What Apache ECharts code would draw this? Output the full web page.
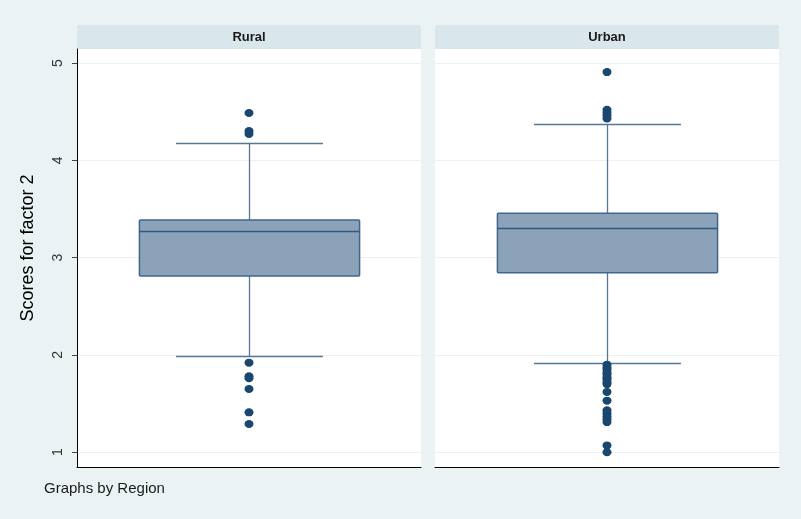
<!DOCTYPE html>
<html><head><meta charset="utf-8">
<script src="https://cdn.jsdelivr.net/npm/echarts@6/dist/echarts.min.js"></script>
<style>html,body{margin:0;padding:0;background:#eaf2f3}#c{width:801px;height:519px}</style>
</head><body><div id="c"></div>
<script>
// ---- data ----
const categories = ['Rural', 'Urban'];
// [lower whisker, Q1, median, Q3, upper whisker]
const ruralBox = [1.989, 2.811, 3.277, 3.386, 4.178];
const urbanBox = [1.917, 2.845, 3.307, 3.455, 4.373];
const ruralOutliers = [4.486, 4.30, 4.27, 1.92, 1.78, 1.76, 1.65, 1.41, 1.29];
const urbanOutliers = [4.907, 4.52, 4.49, 4.46, 4.43,
  1.90, 1.87, 1.85, 1.82, 1.80, 1.77, 1.75, 1.72, 1.70, 1.62, 1.53,
  1.43, 1.40, 1.37, 1.34, 1.31, 1.07, 1.00];
const yTicks = [1, 2, 3, 4, 5];
const yMin = 0.848, yMax = 5.144;
const yTitle = 'Scores for factor 2';
const note = 'Graphs by Region';

const boxes = [ruralBox, urbanBox];
const outliers = [ruralOutliers, urbanOutliers];

const FONT = '"Liberation Sans", Arial, sans-serif';
const boxFill = '#8ca2b8', boxBorder = '#41668d', medColor = '#2f5882', whiskerColor = '#56779a', dotColor = '#1a476f';

function crisp(v) { return Math.round(v) + 0.5; }

function renderBox(params, api) {
  const x = api.value(0);
  const lo = api.value(1), q1 = api.value(2), med = api.value(3), q3 = api.value(4), hi = api.value(5);
  const band = api.size([1, 0])[0];
  const cx = crisp(api.coord([x, med])[0]);
  const y = v => api.coord([x, v])[1];
  const bw = band * 0.64, cw = band * 0.427;
  const ls = { stroke: whiskerColor, lineWidth: 1.3 };
  return {
    type: 'group',
    children: [
      { type: 'line', shape: { x1: cx, y1: y(hi), x2: cx, y2: y(q3) }, style: ls },
      { type: 'line', shape: { x1: cx, y1: y(q1), x2: cx, y2: y(lo) }, style: ls },
      { type: 'line', shape: { x1: cx - cw / 2, y1: crisp(y(hi)), x2: cx + cw / 2, y2: crisp(y(hi)) }, style: ls },
      { type: 'line', shape: { x1: cx - cw / 2, y1: crisp(y(lo)), x2: cx + cw / 2, y2: crisp(y(lo)) }, style: ls },
      { type: 'rect', shape: { x: cx - bw / 2, y: y(q3), width: bw, height: y(q1) - y(q3), r: 1 },
        style: { fill: boxFill, stroke: boxBorder, lineWidth: 1.5 } },
      { type: 'line', shape: { x1: cx - bw / 2, y1: crisp(y(med)), x2: cx + bw / 2, y2: crisp(y(med)) },
        style: { stroke: medColor, lineWidth: 1.5 } }
    ]
  };
}

const grids = [
  { left: 77, right: 380, top: 49, bottom: 52 },
  { left: 435, right: 22, top: 49, bottom: 52 }
];

const xAxes = categories.map((c, i) => ({
  type: 'category', gridIndex: i, data: [c],
  axisLine: { show: true, lineStyle: { color: '#000', width: 1 } },
  axisTick: { show: false }, axisLabel: { show: false }, splitLine: { show: false }
}));

const yAxes = categories.map((c, i) => ({
  type: 'value', gridIndex: i, min: yMin, max: yMax,
  axisLine: { show: i === 0, lineStyle: { color: '#000', width: 1 } },
  axisTick: { show: i === 0, length: 5, lineStyle: { color: '#444' }, customValues: yTicks },
  axisLabel: { show: i === 0, customValues: yTicks, rotate: 90, margin: 12,
    color: '#333', fontSize: 14, fontFamily: FONT },
  splitLine: { show: true, lineStyle: { color: '#eaf2f3', width: 1 } }
}));

const series = [];
categories.forEach((c, i) => {
  series.push({
    type: 'custom', xAxisIndex: i, yAxisIndex: i,
    renderItem: renderBox,
    encode: { x: 0, y: [1, 2, 3, 4, 5] },
    data: [[0].concat(boxes[i])],
    z: 2
  });
  series.push({
    type: 'scatter', xAxisIndex: i, yAxisIndex: i,
    symbol: 'circle', symbolSize: [9, 8],
    itemStyle: { color: dotColor, opacity: 1 },
    data: outliers[i].map(v => [0, v]),
    z: 3
  });
});

const graphic = [];
grids.forEach((g, i) => {
  const x0 = g.left, x1 = 801 - g.right;
  graphic.push({ type: 'rect', left: x0, top: 25, shape: { width: x1 - x0, height: 24, r: [2, 2, 0, 0] },
    style: { fill: '#d9e6eb' }, silent: true });
  graphic.push({ type: 'text', x: (x0 + x1) / 2, y: 37,
    style: { text: categories[i], fill: '#1a1a1a', font: 'bold 13px ' + FONT, textAlign: 'center', textVerticalAlign: 'middle' } });
});
graphic.push({ type: 'text', x: 28, y: 248, rotation: Math.PI / 2,
  style: { text: yTitle, fill: '#000', font: '18px ' + FONT, textAlign: 'center', textVerticalAlign: 'middle' } });
graphic.push({ type: 'text', x: 44, y: 489,
  style: { text: note, fill: '#1a1a1a', font: '15px ' + FONT, textAlign: 'left', textVerticalAlign: 'middle' } });

const chart = echarts.init(document.getElementById('c'), null, { renderer: 'canvas' });
chart.setOption({
  backgroundColor: '#eaf2f3',
  animation: false,
  grid: grids.map(g => Object.assign({ show: true, backgroundColor: '#fff', borderWidth: 0 }, g)),
  xAxis: xAxes,
  yAxis: yAxes,
  series: series,
  graphic: graphic
});
</script></body></html>
